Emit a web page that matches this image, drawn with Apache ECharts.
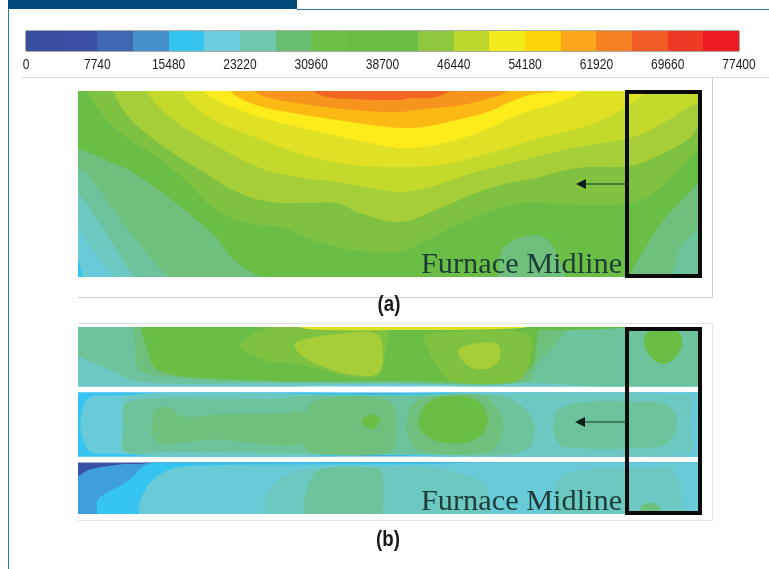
<!DOCTYPE html>
<html><head><meta charset="utf-8">
<style>html,body{margin:0;padding:0;background:#fff}#c{width:769px;height:569px;filter:blur(0.6px)}</style>
<script src="https://cdn.jsdelivr.net/npm/echarts@6/dist/echarts.min.js"></script>
</head><body><div id="c"></div>
<script>
const scaleMax = 77400, bandStep = 3870, tickStep = 7740;
const bandColors = ['#3a4ea0','#3b50a4','#3f68b2','#448fcb','#35c4f0','#6ecce0','#70c8ae','#68be70','#6cbf47','#6abc45','#6abe45','#8fc83e','#bed82e','#f4eb1c','#fdd30a','#fba61b','#f68121','#f15b25','#ee3a25','#ed1c24'];
const fieldColors = ['#3a50a5','#3b50a4','#3f69b5','#3f9fdc','#35c5f0','#69cbd8','#6dc8c2','#6dc39c','#6ec07c','#6abd45','#7fc241','#a6ce39','#c3da2c','#e0e124','#fcec1c','#fdb913','#f7941d','#f26522','#ee3a25','#ed1c24'];

/* Panel (a): band index and boundary of the region at or above that band */
const levelsA = [4,5,6,7,8,9,10,11,12,13,14,15,16,17];
const curvesA = [
 [-30,-30,660,-30,660,220,-30,220],
 [-10,160,-1,166,5,186,12,205,660,205,660,-30,-10,-30],
 [-10,128,-1,136,15,159,35,186,50,205,660,205,660,-30,-10,-30],
 [-10,90,-1,100,28,142,56,186,75,205,640,205,660,205,660,-30,-10,-30],
 [-10,70,8,82,48,136,90,186,110,200,575,200,594,182,602,157,622,134,640,110,640,-30,-10,-30],
 [-10,48,22,66,49,78,61,85,98,112,138,146,155,168,187,187,250,195,410,195,419,187,425,157,455,144,472,151,489,187,500,195,545,195,557,174,585,130,622,90,640,70,640,-30,-10,-30],
 [8,-10,10,0,22,21,49,47,79,66,109,91,135,117,165,131,205,137,235,149,275,159,322,161,345,151,395,127,445,112,495,114,552,112,582,97,622,55,640,30,640,-30,8,-30],
 [33,-10,35,0,49,24,79,51,125,81,159,101,192,111,232,112,259,112,282,122,322,131,362,117,412,97,462,86,499,77,552,75,582,64,612,47,622,34,640,18,640,-30,33,-30],
 [66,-10,69,0,79,14,102,34,142,57,182,77,219,86,259,91,322,101,352,96,395,82,445,69,495,57,552,47,582,34,609,17,622,10,640,0,640,-30,66,-30],
 [101,-10,104,0,115,14,139,31,179,47,225,64,275,74,322,76,362,74,412,62,462,47,512,34,545,18,565,4,580,-6,590,-30,101,-30],
 [120,-10,124,0,149,14,192,29,242,41,292,52,322,57,345,56,379,49,412,37,445,22,479,12,505,0,515,-10],
 [148,-10,152,0,172,12,209,21,259,29,292,34,322,37,345,36,379,29,412,20,432,11,455,3,479,0,490,-10],
 [172,-10,177,1,192,7,225,13,275,19,322,21,345,18,379,15,405,9,429,1,436,-10],
 [228,-10,235,0,249,6,275,8,322,9,332,7,352,7,372,0,378,-10]
];

/* Panel (b), upper strip */
const levelsB1 = [5,6,7,8,9,10,10,11,11,13,9,9];
const curvesB1 = [
 [-30,-30,660,-30,660,100,-30,100],
 [-30,-30,300,-30,660,-30,660,57,300,57,-30,56],
 [-20,-20,-10,20,30,42,65,55,200,56,449,56,640,54,660,-20],
 [60,-8,57,20,62,43,92,50,200,55,320,56,449,55,459,37,485,8,495,-8],
 [68,-8,70,26,80,43,110,50,200,54,322,54,420,54,452,42,458,20,455,-8],
 [162,19,192,0,250,-3,307,3,307,27,300,49,269,49,239,41,209,36,189,34],
 [345,10,347,7,449,7,449,44,435,55,375,55,362,44,349,21],
 [217,17,232,11,259,7,299,7,305,27,299,47,269,47,239,37,222,27],
 [380,25,389,18,419,17,422,30,412,41,392,40],
 [215,-4,449,-4,445,1,330,3,230,2],
 [450,-4,545,-4,545,1,450,2],
 [570,5,566,18,575,32,585,37,596,32,604,18,600,5]
];

/* Panel (b), middle strip */
const levelsB2 = [3,4,5,6,7,7,8,8,8,9,9];
const curvesB2 = [
 [-30,-30,660,-30,660,100,-30,100],
 [-30,1,300,1,660,1,660,63,300,63,-30,63],
 [18,3,300,3,660,3,660,61,300,62,18,61,10,57,3,39,3,26,8,8],
 [48,3,300,3,610,3,612,30,610,61,300,62,48,61,46,30],
 [47,12,69,6,205,6,225,3,322,3,425,4,455,27,452,54,429,62,345,62,322,62,225,61,92,59,47,59,45,34],
 [475,31,482,16,512,9,552,9,589,12,599,27,589,51,552,56,485,54,477,44],
 [74,27,79,16,95,16,102,24,142,22,205,21,225,21,225,51,132,47,85,52,75,44],
 [224,41,230,14,249,6,305,6,317,17,317,51,309,61,235,61,225,52],
 [329,27,335,11,355,4,405,4,422,21,424,41,412,59,342,59,330,44],
 [284,29,292,22,302,27,294,37],
 [340,31,349,11,369,4,399,8,410,27,399,46,372,51,349,44]
];

/* Panel (b), lower strip */
const levelsB3 = [0,3,4,5,6,6,7,8];
const curvesB3 = [
 [-30,-30,660,-30,660,100,-30,100],
 [-20,18,-1,14,12,7,42,2,72,-1,80,-20,660,-20,660,80,-20,80],
 [18,80,19,51,20,37,35,27,52,17,65,4,75,0,90,-20,660,-20,660,80],
 [58,80,60,51,64,34,75,17,95,6,125,3,205,2,322,2,660,2,660,80],
 [186,80,187,51,189,31,205,14,232,6,305,4,322,5,345,4,405,20,412,51,414,80],
 [475,80,476,50,481,17,500,8,600,5,595,5,602,22,605,50,607,80],
 [224,80,225,51,229,27,242,7,300,6,305,14,305,51,306,80],
 [556,60,560,51,565,42,577,41,585,51,589,60]
];

const tickValues = [0,7740,15480,23220,30960,38700,46440,54180,61920,69660,77400];
const tickLabels = ['0','7740','15480','23220','30960','38700','46440','54180','61920','69660','77400'];
const boxA = [549,1,622,185], boxB = [549,2,622,186];
const arrowA = [549,93,498,93], arrowB = [549,95,497,95];

function field(levels, curves, idx){
  return {
    type:'custom', coordinateSystem:'cartesian2d', xAxisIndex:idx, yAxisIndex:idx, clip:true, silent:true,
    data: curves.map((c,i)=>[i]),
    renderItem:(p,api)=>{
      const c = curves[p.dataIndex], pts=[];
      for(let i=0;i<c.length;i+=2) pts.push(api.coord([c[i],c[i+1]]));
      return {type:'polygon',shape:{points:pts,smooth:0.35},style:{fill:fieldColors[levels[p.dataIndex]]}};
    }
  };
}
function overlay(box, arrow, idx){
  return {
    type:'custom', coordinateSystem:'cartesian2d', xAxisIndex:idx, yAxisIndex:idx, clip:false, silent:true, z:10,
    data:[[box[0],box[1],box[2],box[3]]],
    renderItem:(p,api)=>{
      const a=api.coord([box[0],box[1]]), b=api.coord([box[2],box[3]]);
      const t=api.coord([arrow[0],arrow[1]]), h=api.coord([arrow[2],arrow[3]]);
      return {type:'group',children:[
        {type:'rect',shape:{x:a[0],y:a[1],width:b[0]-a[0],height:b[1]-a[1]},style:{fill:'none',stroke:'#0b0b0b',lineWidth:4}},
        {type:'line',shape:{x1:t[0],y1:t[1],x2:h[0]+6,y2:h[1]},style:{stroke:'#12352c',lineWidth:1.2}},
        {type:'polygon',shape:{points:[[h[0],h[1]],[h[0]+10,h[1]-5],[h[0]+10,h[1]+5]]},style:{fill:'#0a1f1a'}}
      ]};
    }
  };
}
const hiddenAxis = (min,max,inv,g)=>({type:'value',gridIndex:g,min,max,inverse:inv,show:false});
const grids = [
 {left:26,top:31,width:713,height:20,show:true,borderColor:'#55554a',borderWidth:1,backgroundColor:'transparent'},
 {left:78,top:91,width:622,height:186},
 {left:78,top:327,width:622,height:59.5},
 {left:78,top:392.5,width:622,height:64},
 {left:78,top:462.5,width:622,height:51.5},
 {left:78,top:327,width:622,height:193}
];
const option = {
 animation:false, backgroundColor:'#fff',
 grid:grids,
 xAxis:[
  {type:'value',gridIndex:0,min:0,max:scaleMax,interval:tickStep,axisLine:{show:false},axisTick:{show:false},splitLine:{show:false},axisLabel:{show:false}},
  hiddenAxis(0,622,false,1),hiddenAxis(0,622,false,2),hiddenAxis(0,622,false,3),hiddenAxis(0,622,false,4),hiddenAxis(0,622,false,5)
 ],
 yAxis:[
  {type:'value',gridIndex:0,min:0,max:1,show:false},
  hiddenAxis(0,186,true,1),hiddenAxis(0,59.5,true,2),hiddenAxis(0,64,true,3),hiddenAxis(0,51.5,true,4),hiddenAxis(0,193,true,5)
 ],
 series:[
  {type:'custom',coordinateSystem:'cartesian2d',xAxisIndex:0,yAxisIndex:0,silent:true,
   data:bandColors.map((c,i)=>[i*bandStep,(i+1)*bandStep]),
   renderItem:(p,api)=>{
     const a=api.coord([api.value(0),1]), b=api.coord([api.value(1),0]);
     const x0=Math.round(a[0]), x1=Math.round(b[0]);
     return {type:'rect',shape:{x:x0,y:a[1],width:x1-x0,height:b[1]-a[1]},style:{fill:bandColors[p.dataIndex]}};
   }},
  {type:'custom',coordinateSystem:'cartesian2d',xAxisIndex:0,yAxisIndex:0,silent:true,clip:false,
   data:tickValues.map(v=>[v]),
   renderItem:(p,api)=>{
     const a=api.coord([api.value(0),0]);
     return {type:'text',x:a[0],y:a[1]+14,scaleX:0.8,
       style:{text:tickLabels[p.dataIndex],align:'center',verticalAlign:'middle',fill:'#1c1c1c',font:'15px "Liberation Sans",sans-serif'}};
   }},
  field(levelsA,curvesA,1), field(levelsB1,curvesB1,2), field(levelsB2,curvesB2,3), field(levelsB3,curvesB3,4),
  overlay(boxA,arrowA,1), overlay(boxB,arrowB,5)
 ],
 graphic:[
  {type:'rect',z:0,shape:{x:8,y:0,width:289,height:9},style:{fill:'#004a7c'}},
  {type:'line',z:0,shape:{x1:297,y1:9.5,x2:769,y2:9.5},style:{stroke:'#2a77a8',lineWidth:1}},
  {type:'line',z:0,shape:{x1:8.5,y1:9,x2:8.5,y2:569},style:{stroke:'#2a77a8',lineWidth:1}},
  {type:'line',z:0,shape:{x1:22,y1:77.5,x2:769,y2:77.5},style:{stroke:'#d9d9d9',lineWidth:1}},
  {type:'polyline',z:0,shape:{points:[[712.5,78],[712.5,297.5],[78,297.5]]},style:{fill:'none',stroke:'#cfcfcf',lineWidth:1}},
  {type:'polyline',z:0,shape:{points:[[78,323.5],[712.5,323.5],[712.5,520.5],[78,520.5]]},style:{fill:'none',stroke:'#e3e3e3',lineWidth:1}},
  {type:'text',z:100,style:{text:'Furnace Midline',x:421,y:265,fill:'#1d3d38',font:'30.3px "Liberation Serif",serif',verticalAlign:'middle'}},
  {type:'text',z:100,style:{text:'Furnace Midline',x:421,y:502,fill:'#1d3d38',font:'30.3px "Liberation Serif",serif',verticalAlign:'middle'}},
  {type:'text',z:100,x:389,y:305,scaleX:0.85,style:{text:'(a)',fill:'#1a1a1a',font:'bold 22px "Liberation Sans",sans-serif',align:'center',verticalAlign:'middle'}},
  {type:'text',z:100,x:388,y:540,scaleX:0.85,style:{text:'(b)',fill:'#1a1a1a',font:'bold 22px "Liberation Sans",sans-serif',align:'center',verticalAlign:'middle'}}
 ]
};
echarts.init(document.getElementById('c'),null,{renderer:'canvas'}).setOption(option);
</script></body></html>
